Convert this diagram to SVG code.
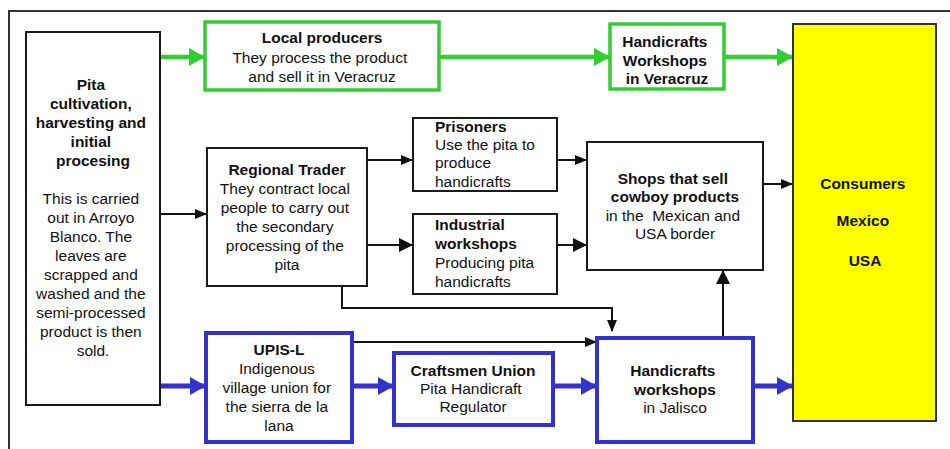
<svg xmlns="http://www.w3.org/2000/svg" width="950" height="449" viewBox="0 0 950 449">
  <style>
    text { font-family: "Liberation Sans", Arial, sans-serif; font-size: 15.5px; fill: #111; }
    .b { font-weight: bold; }
    .c { text-anchor: middle; }
    .box { fill: #fff; stroke: #1a1a1a; stroke-width: 2; }
    .gbox { fill: #fff; stroke: #3c3; stroke-width: 3.5; }
    .bbox { fill: #fff; stroke: #33c; stroke-width: 4; }
    .ybox { fill: #ff0; stroke: #333; stroke-width: 2; }
    .frame { fill: none; stroke: #333; stroke-width: 2; }
    .k { fill: none; stroke: #111; stroke-width: 2; }
    .g { fill: none; stroke: #3c3; stroke-width: 4.5; }
    .bl { fill: none; stroke: #33c; stroke-width: 5; }
  </style>
  <defs>
    <marker id="ak" markerUnits="userSpaceOnUse" markerWidth="12" markerHeight="10" refX="11" refY="5" orient="auto">
      <path d="M0,0 L12,5 L0,10 Z" fill="#111"/>
    </marker>
    <marker id="akL" markerUnits="userSpaceOnUse" markerWidth="14" markerHeight="14" refX="13" refY="7" orient="auto">
      <path d="M0,0 L14,7 L0,14 Z" fill="#111"/>
    </marker>
    <marker id="ag" markerUnits="userSpaceOnUse" markerWidth="16" markerHeight="18" refX="15" refY="9" orient="auto">
      <path d="M0,0 L16,9 L0,18 Z" fill="#3c3"/>
    </marker>
    <marker id="ab" markerUnits="userSpaceOnUse" markerWidth="16" markerHeight="18" refX="15" refY="9" orient="auto">
      <path d="M0,0 L16,9 L0,18 Z" fill="#33c"/>
    </marker>
  </defs>

  <!-- outer frame -->
  <path class="frame" d="M9,449 V11 H950"/>

  <!-- connectors -->
  <g id="connectors">
    <!-- green route -->
    <path class="g" d="M160,57 H204" marker-end="url(#ag)"/>
    <path class="g" d="M439,57 H609" marker-end="url(#ag)"/>
    <path class="g" d="M724,57 H792" marker-end="url(#ag)"/>
    <!-- black route -->
    <path class="k" d="M160,214 H206" marker-end="url(#ak)"/>
    <path class="k" d="M367,160 H412" marker-end="url(#ak)"/>
    <path class="k" d="M367,245 H412" marker-end="url(#akL)"/>
    <path class="k" d="M557,160 H586" marker-end="url(#ak)"/>
    <path class="k" d="M557,245 H586" marker-end="url(#akL)"/>
    <path class="k" d="M763,184 H792" marker-end="url(#ak)"/>
    <path class="k" d="M342,286 V308 H612 V331" marker-end="url(#ak)"/>
    <path class="k" d="M352,342 H596" marker-end="url(#ak)"/>
    <path class="k" d="M723,336 V271" marker-end="url(#akL)"/>
    <!-- blue route -->
    <path class="bl" d="M160,386 H205" marker-end="url(#ab)"/>
    <path class="bl" d="M352,386 H393" marker-end="url(#ab)"/>
    <path class="bl" d="M553,386 H596" marker-end="url(#ab)"/>
    <path class="bl" d="M753,386 H792" marker-end="url(#ab)"/>
  </g>

  <!-- nodes -->
  <g id="pita-cultivation">
    <rect class="box" x="26" y="32" width="134" height="373"/>
    <text class="c b" x="93">
      <tspan x="93" y="90">Pita</tspan>
      <tspan x="93" y="109">cultivation,</tspan>
      <tspan x="93" y="128">harvesting and</tspan>
      <tspan x="93" y="147">initial</tspan>
      <tspan x="93" y="166">procesing</tspan>
    </text>
    <text class="c" x="93">
      <tspan x="93" y="204">This is carried</tspan>
      <tspan x="93" y="223">out in Arroyo</tspan>
      <tspan x="93" y="242">Blanco. The</tspan>
      <tspan x="93" y="261">leaves are</tspan>
      <tspan x="93" y="280">scrapped and</tspan>
      <tspan x="93" y="299">washed and the</tspan>
      <tspan x="93" y="318">semi-processed</tspan>
      <tspan x="93" y="337">product is then</tspan>
      <tspan x="93" y="356">sold.</tspan>
    </text>
  </g>

  <g id="local-producers">
    <rect class="gbox" x="205" y="22" width="234" height="68"/>
    <text class="c b" x="322" y="43">Local producers</text>
    <text class="c" x="322">
      <tspan x="322" y="63">They process the product</tspan>
      <tspan x="322" y="82">and sell it in Veracruz</tspan>
    </text>
  </g>

  <g id="veracruz-workshops">
    <rect class="gbox" x="610" y="24" width="114" height="65"/>
    <text class="c b" x="667">
      <tspan x="667" y="47">Handicrafts</tspan>
      <tspan x="667" y="66">Workshops</tspan>
      <tspan x="667" y="84">in Veracruz</tspan>
    </text>
  </g>

  <g id="consumers">
    <rect class="ybox" x="793" y="24" width="143" height="397"/>
    <text class="c b" x="865">
      <tspan x="865" y="189">Consumers</tspan>
      <tspan x="865" y="226">Mexico</tspan>
      <tspan x="865" y="266">USA</tspan>
    </text>
  </g>

  <g id="regional-trader">
    <rect class="box" x="207" y="148" width="160" height="138"/>
    <text class="c b" x="287" y="175">Regional Trader</text>
    <text class="c" x="287">
      <tspan x="287" y="194">They contract local</tspan>
      <tspan x="287" y="213">people to carry out</tspan>
      <tspan x="287" y="232">the secondary</tspan>
      <tspan x="287" y="251">processing of the</tspan>
      <tspan x="287" y="270">pita</tspan>
    </text>
  </g>

  <g id="prisoners">
    <rect class="box" x="413" y="118" width="144" height="73"/>
    <text class="b" x="435" y="132">Prisoners</text>
    <text x="435">
      <tspan x="435" y="150">Use the pita to</tspan>
      <tspan x="435" y="168">produce</tspan>
      <tspan x="435" y="187">handicrafts</tspan>
    </text>
  </g>

  <g id="industrial-workshops">
    <rect class="box" x="413" y="214" width="144" height="80"/>
    <text class="b" x="435">
      <tspan x="435" y="230">Industrial</tspan>
      <tspan x="435" y="249">workshops</tspan>
    </text>
    <text x="435">
      <tspan x="435" y="268">Producing pita</tspan>
      <tspan x="435" y="287">handicrafts</tspan>
    </text>
  </g>

  <g id="cowboy-shops">
    <rect class="box" x="587" y="142" width="176" height="128"/>
    <text class="c b" x="675">
      <tspan x="675" y="184">Shops that sell</tspan>
      <tspan x="675" y="202">cowboy products</tspan>
    </text>
    <text class="c" x="675">
      <tspan x="675" y="221">in the&#160; Mexican and</tspan>
      <tspan x="675" y="239">USA border</tspan>
    </text>
  </g>

  <g id="upis-l">
    <rect class="bbox" x="206" y="333" width="146" height="109"/>
    <text class="c b" x="279" y="355">UPIS-L</text>
    <text class="c" x="279">
      <tspan x="279" y="374">Indigenous</tspan>
      <tspan x="279" y="393">village union for</tspan>
      <tspan x="279" y="412">the sierra de la</tspan>
      <tspan x="279" y="431">lana</tspan>
    </text>
  </g>

  <g id="craftsmen-union">
    <rect class="bbox" x="394" y="353" width="159" height="72"/>
    <text class="c b" x="473" y="376">Craftsmen Union</text>
    <text class="c" x="473">
      <tspan x="473" y="394">Pita Handicraft</tspan>
      <tspan x="473" y="412">Regulator</tspan>
    </text>
  </g>

  <g id="jalisco-workshops">
    <rect class="bbox" x="597" y="338" width="156" height="104"/>
    <text class="c b" x="675">
      <tspan x="675" y="376">Handicrafts</tspan>
      <tspan x="675" y="395">workshops</tspan>
    </text>
    <text class="c" x="675" y="413">in Jalisco</text>
  </g>
</svg>
